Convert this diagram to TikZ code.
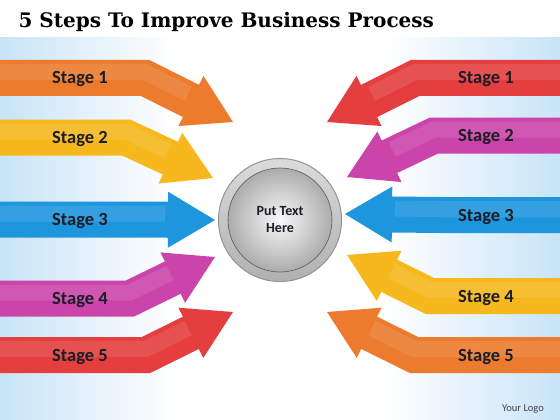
\documentclass[tikz,border=0pt]{standalone}
\usepackage{fontspec}
\setmainfont{Carlito}
\newfontfamily\titlefont{DejaVu Serif}
\usetikzlibrary{calc}

\definecolor{sky}{RGB}{200,228,247}
\definecolor{inkdark}{RGB}{28,28,38}
\definecolor{stOrange}{RGB}{236,123,46}
\definecolor{stYellow}{RGB}{246,184,28}
\definecolor{stBlue}{RGB}{30,150,222}
\definecolor{stMagenta}{RGB}{203,68,170}
\definecolor{stRed}{RGB}{228,62,62}

\begin{document}
\begin{tikzpicture}[x=1pt,y=-1pt]
\begin{scope}
\tikzstyle{stagetext} = [font=\bfseries\fontsize{18.5}{21}\selectfont,text=inkdark,anchor=base]
\tikzstyle{band} = [line width=36pt,line join=miter]
\tikzstyle{gloss} = [line width=16pt,white,opacity=0.1]
\tikzstyle{ring} = [circle,minimum size=123pt,inner sep=0pt,top color=gray!28,bottom color=gray!62,draw=gray!85,line width=1pt]
\tikzstyle{core} = [circle,minimum size=104pt,inner sep=0pt,inner color=gray!5,outer color=gray!65,draw=gray!70!black,line width=0.6pt,align=center,font=\bfseries\fontsize{14}{17}\selectfont,text=inkdark]

\clip (0,0) rectangle (560,420);

% background
\fill [left color=sky,right color=white] (0,38) rectangle (175,420);
\fill [left color=white,right color=sky] (385,38) rectangle (560,420);

\node [anchor=base west,font=\titlefont\bfseries\fontsize{20}{24}\selectfont,text=black] (title) at (15,28) {5 Steps To Improve Business Process};

% left arrows
\coordinate (ls1) at (-10,78);    \coordinate (lb1) at (145,78);    \coordinate (lt1) at (233,122);
\coordinate (ls2) at (-10,137.5); \coordinate (lb2) at (126,137.5); \coordinate (lt2) at (213,178);
\coordinate (ls3) at (-10,219.5); \coordinate (lb3) at (120,219.5); \coordinate (lt3) at (215,220);
\coordinate (ls4) at (-10,298.5); \coordinate (lb4) at (130,298.5); \coordinate (lt4) at (215,257);
\coordinate (ls5) at (-10,355);   \coordinate (lb5) at (146,355);   \coordinate (lt5) at (233,312);

\draw [band,stOrange] (ls1) -- (lb1) -- ($(lt1)!40pt!(lb1)$);
\fill [stOrange] (lt1) -- ($(lt1)!47pt!(lb1)!28pt!90:(lt1)$) -- ($(lt1)!47pt!(lb1)!28pt!-90:(lt1)$) -- cycle;
\draw [gloss] ([yshift=6pt]ls1) -- ([yshift=6pt]lb1) -- ([yshift=6pt]$(lt1)!50pt!(lb1)$);

\draw [band,stYellow] (ls2) -- (lb2) -- ($(lt2)!40pt!(lb2)$);
\fill [stYellow] (lt2) -- ($(lt2)!47pt!(lb2)!28pt!90:(lt2)$) -- ($(lt2)!47pt!(lb2)!28pt!-90:(lt2)$) -- cycle;
\draw [gloss] ([yshift=6pt]ls2) -- ([yshift=6pt]lb2) -- ([yshift=6pt]$(lt2)!50pt!(lb2)$);

\draw [band,stBlue] (ls3) -- (lb3) -- ($(lt3)!40pt!(lb3)$);
\fill [stBlue] (lt3) -- ($(lt3)!47pt!(lb3)!28pt!90:(lt3)$) -- ($(lt3)!47pt!(lb3)!28pt!-90:(lt3)$) -- cycle;
\draw [gloss] ([yshift=6pt]ls3) -- ([yshift=6pt]lb3) -- ([yshift=6pt]$(lt3)!50pt!(lb3)$);

\draw [band,stMagenta] (ls4) -- (lb4) -- ($(lt4)!40pt!(lb4)$);
\fill [stMagenta] (lt4) -- ($(lt4)!47pt!(lb4)!28pt!90:(lt4)$) -- ($(lt4)!47pt!(lb4)!28pt!-90:(lt4)$) -- cycle;
\draw [gloss] ([yshift=6pt]ls4) -- ([yshift=6pt]lb4) -- ([yshift=6pt]$(lt4)!50pt!(lb4)$);

\draw [band,stRed] (ls5) -- (lb5) -- ($(lt5)!40pt!(lb5)$);
\fill [stRed] (lt5) -- ($(lt5)!47pt!(lb5)!28pt!90:(lt5)$) -- ($(lt5)!47pt!(lb5)!28pt!-90:(lt5)$) -- cycle;
\draw [gloss] ([yshift=6pt]ls5) -- ([yshift=6pt]lb5) -- ([yshift=6pt]$(lt5)!50pt!(lb5)$);

% right arrows
\coordinate (rs1) at (570,78);    \coordinate (rb1) at (415,78);    \coordinate (rt1) at (327,122);
\coordinate (rs2) at (570,135.5); \coordinate (rb2) at (434,135.5); \coordinate (rt2) at (347,177);
\coordinate (rs3) at (570,215);   \coordinate (rb3) at (440,215);   \coordinate (rt3) at (345,214);
\coordinate (rs4) at (570,296);   \coordinate (rb4) at (430,296);   \coordinate (rt4) at (347,255);
\coordinate (rs5) at (570,355);   \coordinate (rb5) at (414,355);   \coordinate (rt5) at (327,312);

\draw [band,stRed] (rs1) -- (rb1) -- ($(rt1)!40pt!(rb1)$);
\fill [stRed] (rt1) -- ($(rt1)!47pt!(rb1)!28pt!90:(rt1)$) -- ($(rt1)!47pt!(rb1)!28pt!-90:(rt1)$) -- cycle;
\draw [gloss] ([yshift=6pt]rs1) -- ([yshift=6pt]rb1) -- ([yshift=6pt]$(rt1)!50pt!(rb1)$);

\draw [band,stMagenta] (rs2) -- (rb2) -- ($(rt2)!40pt!(rb2)$);
\fill [stMagenta] (rt2) -- ($(rt2)!47pt!(rb2)!28pt!90:(rt2)$) -- ($(rt2)!47pt!(rb2)!28pt!-90:(rt2)$) -- cycle;
\draw [gloss] ([yshift=6pt]rs2) -- ([yshift=6pt]rb2) -- ([yshift=6pt]$(rt2)!50pt!(rb2)$);

\draw [band,stBlue] (rs3) -- (rb3) -- ($(rt3)!40pt!(rb3)$);
\fill [stBlue] (rt3) -- ($(rt3)!47pt!(rb3)!28pt!90:(rt3)$) -- ($(rt3)!47pt!(rb3)!28pt!-90:(rt3)$) -- cycle;
\draw [gloss] ([yshift=6pt]rs3) -- ([yshift=6pt]rb3) -- ([yshift=6pt]$(rt3)!50pt!(rb3)$);

\draw [band,stYellow] (rs4) -- (rb4) -- ($(rt4)!40pt!(rb4)$);
\fill [stYellow] (rt4) -- ($(rt4)!47pt!(rb4)!28pt!90:(rt4)$) -- ($(rt4)!47pt!(rb4)!28pt!-90:(rt4)$) -- cycle;
\draw [gloss] ([yshift=6pt]rs4) -- ([yshift=6pt]rb4) -- ([yshift=6pt]$(rt4)!50pt!(rb4)$);

\draw [band,stOrange] (rs5) -- (rb5) -- ($(rt5)!40pt!(rb5)$);
\fill [stOrange] (rt5) -- ($(rt5)!47pt!(rb5)!28pt!90:(rt5)$) -- ($(rt5)!47pt!(rb5)!28pt!-90:(rt5)$) -- cycle;
\draw [gloss] ([yshift=6pt]rs5) -- ([yshift=6pt]rb5) -- ([yshift=6pt]$(rt5)!50pt!(rb5)$);

% stage labels
\node [stagetext] (l1) at (80,84) {Stage 1};
\node [stagetext] (l2) at (80,143.5) {Stage 2};
\node [stagetext] (l3) at (80,225.5) {Stage 3};
\node [stagetext] (l4) at (80,304.5) {Stage 4};
\node [stagetext] (l5) at (80,361) {Stage 5};

\node [stagetext] (r1) at (486,84) {Stage 1};
\node [stagetext] (r2) at (486,141.5) {Stage 2};
\node [stagetext] (r3) at (486,221) {Stage 3};
\node [stagetext] (r4) at (486,302) {Stage 4};
\node [stagetext] (r5) at (486,361) {Stage 5};

% hub
\node [ring] (hub) at (280,220) {};
\node [core] (centre) at (hub.center) {Put Text\\Here};

\node [anchor=base,font=\fontsize{10.5}{12}\selectfont,text=gray!40!inkdark] (logo) at (523,411) {Your Logo};
\end{scope}
\end{tikzpicture}
\end{document}
